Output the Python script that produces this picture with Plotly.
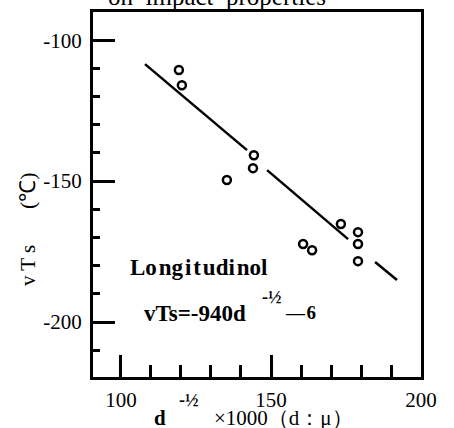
import plotly.graph_objects as go

# Data
grain_x = [119.3, 120.3, 144.3, 144.0, 135.3, 173.3, 179.0, 179.0, 179.0, 160.7, 163.7]
vts_y = [-110.6, -116.0, -140.8, -145.4, -149.6, -165.2, -168.1, -172.3, -178.4, -172.3, -174.5]

# Regression line (broken into segments as drawn)
line_x = [108.0, 142.0, None, 148.7, 175.7, None, 184.7, 192.0]
line_y = [-108.5, -139.0, None, -146.1, -170.6, None, -178.7, -185.1]

x_ticks = [100, 150, 200]
y_ticks = [-100, -150, -200]

FONT = "Liberation Serif"
L, R, T, B = 93, 33, 12, 51
W, H = 454, 428
PW, PH = W - L - R, H - T - B


def px(xp):
    return (xp - L) / PW


def py(yp):
    return (H - B - yp) / PH


fig = go.Figure()
fig.add_trace(go.Scatter(x=line_x, y=line_y, mode="lines",
                         line=dict(color="black", width=2.5),
                         connectgaps=False, showlegend=False, hoverinfo="skip"))
fig.add_trace(go.Scatter(x=grain_x, y=vts_y, mode="markers",
                         marker=dict(symbol="circle-open", size=8, color="black",
                                     line=dict(width=2.5, color="black")),
                         showlegend=False))

fig.update_layout(
    width=W, height=H,
    margin=dict(l=L, r=R, t=T, b=B, autoexpand=False),
    paper_bgcolor="white", plot_bgcolor="white",
    font=dict(family=FONT, size=19, color="black"),
    xaxis=dict(range=[90.67, 200], showgrid=False, zeroline=False, automargin=False,
               showline=True, linewidth=3, linecolor="black", mirror=True,
               tickmode="array", tickvals=x_ticks, ticktext=[str(v) for v in x_ticks],
               ticks="inside", ticklen=22, tickwidth=3, tickcolor="black",
               ticklabelstandoff=2,
               tickfont=dict(family=FONT, size=21, color="black"),
               minor=dict(ticks="inside", ticklen=12, tickwidth=2.5, tickcolor="black",
                          dtick=10, tick0=100)),
    yaxis=dict(range=[-219.5, -90.0], showgrid=False, zeroline=False, automargin=False,
               showline=True, linewidth=3, linecolor="black", mirror=True,
               tickmode="array", tickvals=y_ticks, ticktext=[str(v) for v in y_ticks],
               ticks="inside", ticklen=22, tickwidth=2.5, tickcolor="black",
               ticklabelstandoff=4,
               tickfont=dict(family=FONT, size=21, color="black"),
               minor=dict(ticks="inside", ticklen=7, tickwidth=2.5, tickcolor="black",
                          dtick=10, tick0=-100)),
)

annotations = [
    dict(text="on  impact  properties", xref="paper", yref="paper", x=px(217), y=1.0,
         xanchor="center", yanchor="bottom", showarrow=False,
         font=dict(family=FONT, size=25, color="black")),
    dict(text="(℃)", xref="paper", yref="paper", x=px(27), y=py(191),
         xanchor="center", yanchor="middle", textangle=-90, showarrow=False,
         font=dict(family=FONT, size=22, color="black")),
    dict(text="v T s", xref="paper", yref="paper", x=px(28), y=py(266),
         xanchor="center", yanchor="middle", textangle=-90, showarrow=False,
         font=dict(family=FONT, size=21, color="black")),
    dict(text="<b>Lo\u200ang\u200ai\u200at\u200audi\u200anol</b>", xref="x", yref="y",
         x=102.3, y=-180.5,
         xanchor="left", yanchor="middle", showarrow=False,
         font=dict(family=FONT, size=23, color="black")),
    dict(text="<b>vTs=-940d</b>", xref="x", yref="y", x=107.0, y=-196.8,
         xanchor="left", yanchor="middle", showarrow=False,
         font=dict(family=FONT, size=23, color="black")),
    dict(text="<b>-½</b>", xref="x", yref="y", x=146.3, y=-191.0,
         xanchor="left", yanchor="middle", showarrow=False,
         font=dict(family=FONT, size=18, color="black")),
    dict(text="<b>—\u200a6</b>", xref="x", yref="y", x=154.0, y=-196.5,
         xanchor="left", yanchor="middle", showarrow=False,
         font=dict(family=FONT, size=19, color="black")),
    dict(text="<b>d</b>", xref="paper", yref="paper", x=px(152), y=py(418),
         xanchor="left", yanchor="middle", showarrow=False,
         font=dict(family=FONT, size=21, color="black")),
    dict(text="<b>-½</b>", xref="paper", yref="paper", x=px(177), y=py(400),
         xanchor="left", yanchor="middle", showarrow=False,
         font=dict(family=FONT, size=18, color="black")),
    dict(text="×1000（d：μ）", xref="paper", yref="paper", x=px(212), y=py(418),
         xanchor="left", yanchor="middle", showarrow=False,
         font=dict(family=FONT, size=21, color="black")),
]
fig.update_layout(annotations=annotations)

fig.write_html("out.html", config={"displayModeBar": False},
               post_script="document.body.style.margin='0';")
